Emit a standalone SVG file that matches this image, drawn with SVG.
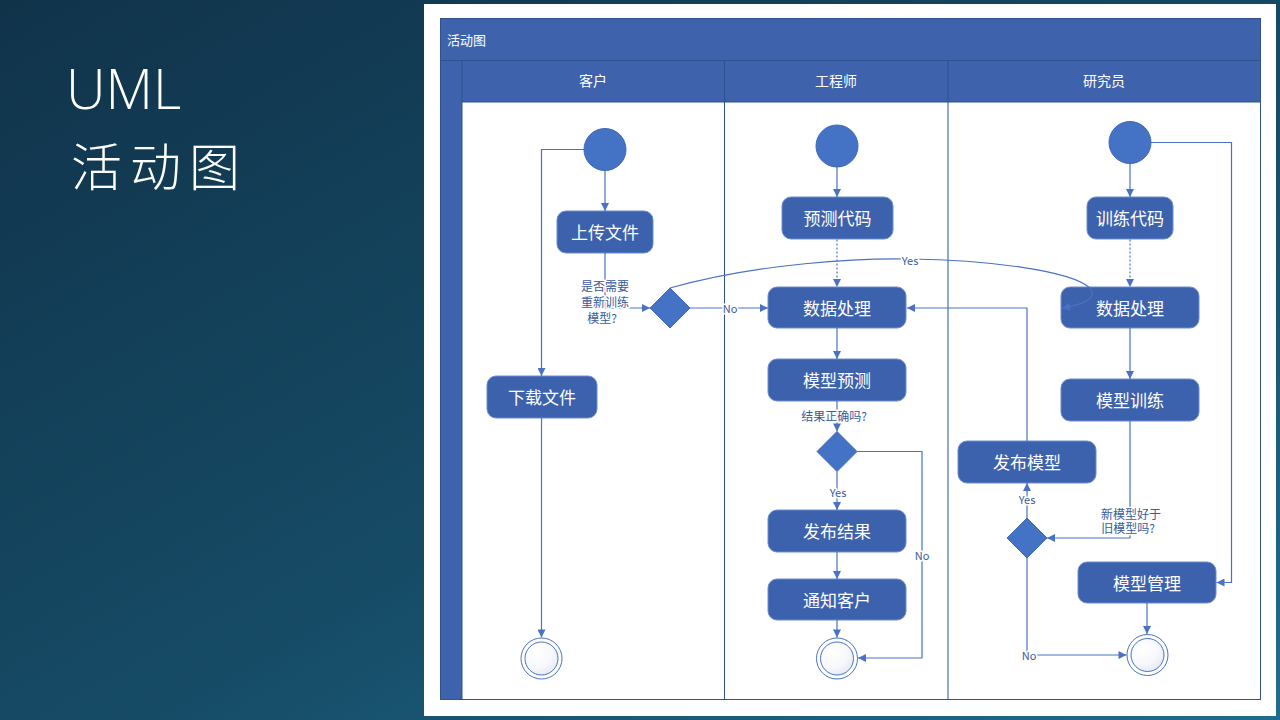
<svg xmlns="http://www.w3.org/2000/svg" width="1280" height="720" viewBox="0 0 1280 720">
  <defs>
    <linearGradient id="bg" x1="0" y1="0" x2="1" y2="1">
      <stop offset="0" stop-color="#10334a"/>
      <stop offset="0.55" stop-color="#164b66"/>
      <stop offset="1" stop-color="#1e6d8d"/>
    </linearGradient>
    <radialGradient id="endFill" cx="0.35" cy="0.3" r="0.8">
      <stop offset="0" stop-color="#ffffff"/>
      <stop offset="0.6" stop-color="#f7f8fc"/>
      <stop offset="1" stop-color="#e2e7f2"/>
    </radialGradient>
    <marker id="arr" viewBox="0 0 10 10" refX="10" refY="5" markerWidth="9" markerHeight="8" orient="auto" markerUnits="userSpaceOnUse">
      <path d="M0,0 L10,5 L0,10 z" fill="#4a72c4"/>
    </marker>
    <style>
      .cjk { font-family: "Noto Sans CJK SC", "Noto Sans", sans-serif; }
      .pool { fill: #3e63ac; stroke: #2f528f; stroke-width: 1; }
      .lane { fill: #ffffff; }
      .sep { stroke: #2f528f; stroke-width: 1; fill: none; }
      .hdr { fill: #ffffff; font-size: 14px; text-anchor: middle; }
      .act { fill: #3d62ad; stroke: #6b8cd0; stroke-width: 1; }
      .acttxt { fill: #ffffff; font-size: 17px; text-anchor: middle; dominant-baseline: central; }
      .start { fill: #4472c4; stroke: #3f68b6; stroke-width: 1; }
      .dec { fill: #4472c4; stroke: #3f68b6; stroke-width: 1; }
      .endo { fill: #ffffff; stroke: #4a72c4; stroke-width: 1; }
      .endi { fill: url(#endFill); stroke: #4a72c4; stroke-width: 1; }
      .wire { fill: none; stroke: #4a72c4; stroke-width: 1.2; }
      .dot { stroke-dasharray: 2 2; }
      .lbl { fill: #3a5a9c; font-size: 12px; text-anchor: middle; dominant-baseline: central; paint-order: stroke; stroke: #ffffff; stroke-width: 3px; stroke-linejoin: round; }
      .yn { font-size: 11px; }
    </style>
  </defs>

  <!-- slide background -->
  <rect x="0" y="0" width="1280" height="720" fill="url(#bg)"/>

  <!-- slide title -->
  <g id="title">
    <text x="66" y="109" fill="#ffffff" font-family="'Open Sans', 'Liberation Sans', sans-serif" font-weight="300" font-size="55">UML</text>
    <text x="71" y="186" fill="#ffffff" class="cjk" font-weight="300" font-size="51" letter-spacing="8">活动图</text>
  </g>

  <!-- white card -->
  <rect x="424" y="4" width="852" height="712" fill="#ffffff"/>

  <!-- swimlane pool -->
  <g id="pool">
    <rect class="pool" x="440.5" y="18.5" width="820" height="681"/>
    <rect class="lane" x="462" y="102" width="798" height="597"/>
    <line class="sep" x1="440.5" y1="60.5" x2="1260.5" y2="60.5"/>
    <line class="sep" x1="462" y1="60.5" x2="462" y2="699.5"/>
    <line class="sep" x1="462" y1="102" x2="1260.5" y2="102"/>
    <line class="sep" x1="724.5" y1="60.5" x2="724.5" y2="699.5"/>
    <line class="sep" x1="948" y1="60.5" x2="948" y2="699.5"/>
    <text class="cjk" x="447" y="45" fill="#ffffff" font-size="13">活动图</text>
    <text class="cjk hdr" x="593" y="86">客户</text>
    <text class="cjk hdr" x="836" y="86">工程师</text>
    <text class="cjk hdr" x="1104" y="86">研究员</text>
  </g>

  <!-- customer lane -->
  <g id="start-customer"><circle class="start" cx="605" cy="149.5" r="21"/></g>
  <g id="upload-file"><rect class="act" x="557" y="211" width="96" height="42" rx="9"/><text class="cjk acttxt" x="605" y="231.5">上传文件</text></g>
  <g id="decision-retrain"><path class="dec" d="M670,288 L690,308 L670,328 L650,308 z"/></g>
  <g id="download-file"><rect class="act" x="487" y="376" width="110" height="42" rx="9"/><text class="cjk acttxt" x="542" y="396.5">下载文件</text></g>
  <g id="end-customer"><circle class="endo" cx="541.5" cy="658.5" r="20.5"/><circle class="endi" cx="541.5" cy="658.5" r="16.5"/></g>

  <!-- engineer lane -->
  <g id="start-engineer"><circle class="start" cx="837" cy="146" r="21"/></g>
  <g id="predict-code"><rect class="act" x="782" y="197" width="111" height="42" rx="9"/><text class="cjk acttxt" x="837.5" y="217.5">预测代码</text></g>
  <g id="data-proc-eng"><rect class="act" x="768" y="287" width="138" height="41" rx="9"/><text class="cjk acttxt" x="837" y="307">数据处理</text></g>
  <g id="model-predict"><rect class="act" x="768" y="359" width="138" height="42" rx="9"/><text class="cjk acttxt" x="837" y="379.5">模型预测</text></g>
  <g id="decision-correct"><path class="dec" d="M837,431.5 L857,451.5 L837,471.5 L817,451.5 z"/></g>
  <g id="publish-result"><rect class="act" x="768" y="510" width="138" height="42" rx="9"/><text class="cjk acttxt" x="837" y="530.5">发布结果</text></g>
  <g id="notify-customer"><rect class="act" x="768" y="579" width="138" height="41" rx="9"/><text class="cjk acttxt" x="837" y="599">通知客户</text></g>
  <g id="end-engineer"><circle class="endo" cx="837" cy="658.5" r="20.5"/><circle class="endi" cx="837" cy="658.5" r="16.5"/></g>

  <!-- researcher lane -->
  <g id="start-researcher"><circle class="start" cx="1130" cy="142.5" r="21"/></g>
  <g id="train-code"><rect class="act" x="1087" y="197" width="86" height="42" rx="9"/><text class="cjk acttxt" x="1130" y="217.5">训练代码</text></g>
  <g id="data-proc-res"><rect class="act" x="1061" y="287" width="138" height="41" rx="9"/><text class="cjk acttxt" x="1130" y="307">数据处理</text></g>
  <g id="model-train"><rect class="act" x="1061" y="379" width="138" height="42" rx="9"/><text class="cjk acttxt" x="1130" y="399.5">模型训练</text></g>
  <g id="publish-model"><rect class="act" x="958" y="441" width="138" height="42" rx="9"/><text class="cjk acttxt" x="1027" y="461.5">发布模型</text></g>
  <g id="decision-better"><path class="dec" d="M1027,518 L1047,538 L1027,558 L1007,538 z"/></g>
  <g id="model-manage"><rect class="act" x="1078" y="562" width="138" height="41" rx="9"/><text class="cjk acttxt" x="1147" y="582">模型管理</text></g>
  <g id="end-researcher"><circle class="endo" cx="1147.5" cy="655" r="20.5"/><circle class="endi" cx="1147.5" cy="655" r="16.5"/></g>

  <!-- connectors, drawn over the nodes -->
  <g id="connectors">
    <path class="wire" d="M605,170.5 V211" marker-end="url(#arr)"/>
    <path class="wire" d="M584,149.5 H541.5 V376" marker-end="url(#arr)"/>
    <path class="wire" d="M541.5,418 V637.5" marker-end="url(#arr)"/>
    <path class="wire" d="M605,253 V308 H650" marker-end="url(#arr)"/>
    <path class="wire" d="M690,308 H768" marker-end="url(#arr)"/>
    <path class="wire" d="M670,288 C760,263 860,258 910,259 C985,260 1070,270 1090,288 Q1100,302 1062,308" marker-end="url(#arr)"/>

    <path class="wire" d="M837,167 V197" marker-end="url(#arr)"/>
    <path class="wire dot" d="M837,239.5 V287" marker-end="url(#arr)"/>
    <path class="wire" d="M837,328 V359" marker-end="url(#arr)"/>
    <path class="wire" d="M837,401 V431.5" marker-end="url(#arr)"/>
    <path class="wire" d="M837,471.5 V510" marker-end="url(#arr)"/>
    <path class="wire" d="M837,552 V579" marker-end="url(#arr)"/>
    <path class="wire" d="M837,620 V637.5" marker-end="url(#arr)"/>
    <path class="wire" d="M857,451.5 H922 V658 H858" marker-end="url(#arr)"/>

    <path class="wire" d="M1130,163.5 V197" marker-end="url(#arr)"/>
    <path class="wire" d="M1151,142.5 H1231.5 V582.5 H1216.5" marker-end="url(#arr)"/>
    <path class="wire dot" d="M1130,239.5 V287" marker-end="url(#arr)"/>
    <path class="wire" d="M1130,328 V379" marker-end="url(#arr)"/>
    <path class="wire" d="M1130,421 V538 H1047" marker-end="url(#arr)"/>
    <path class="wire" d="M1027,518 V483" marker-end="url(#arr)"/>
    <path class="wire" d="M1027,441 V308 H907" marker-end="url(#arr)"/>
    <path class="wire" d="M1027,558 V655 H1126.5" marker-end="url(#arr)"/>
    <path class="wire" d="M1147,603 V634" marker-end="url(#arr)"/>

    <!-- connector labels -->
    <text class="cjk lbl" x="605" y="285">是否需要</text>
    <text class="cjk lbl" x="605" y="301.5">重新训练</text>
    <text class="cjk lbl" x="602" y="317">模型?</text>
    <text class="cjk lbl yn" x="730" y="308">No</text>
    <text class="cjk lbl yn" x="910" y="260">Yes</text>
    <text class="cjk lbl" x="834" y="415">结果正确吗?</text>
    <text class="cjk lbl yn" x="838" y="492">Yes</text>
    <text class="cjk lbl yn" x="922" y="555">No</text>
    <text class="cjk lbl" x="1131" y="513">新模型好于</text>
    <text class="cjk lbl" x="1128" y="527.5">旧模型吗?</text>
    <text class="cjk lbl yn" x="1027" y="499">Yes</text>
    <text class="cjk lbl yn" x="1029" y="655">No</text>
  </g>
</svg>
